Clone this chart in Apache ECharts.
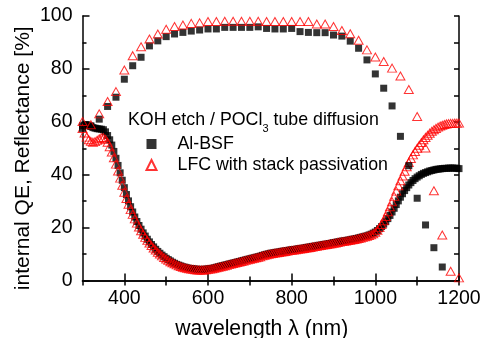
<!DOCTYPE html>
<html><head><meta charset="utf-8">
<script src="https://cdn.jsdelivr.net/npm/echarts@6/dist/echarts.min.js"></script>
<style>html,body{margin:0;padding:0;background:#fff}#c{width:482px;height:338px}</style>
</head><body><div id="c"></div>
<script>
// ---- data ----
const xTickLabels = [400, 600, 800, 1000, 1200];
const xMinorTicks = [500, 700, 900, 1100];

// internal QE, measured every 20 nm
const iqeWavelengths = [300,320,340,360,380,400,420,440,460,480,500,520,540,560,580,600,620,640,660,680,700,720,740,760,780,800,820,840,860,880,900,920,940,960,980,1000,1020,1040,1060,1080,1100,1120,1140,1160,1180,1200];
const iqeAlBsf = [57.5,58.5,61.0,65.8,69.3,76.1,81.2,84.4,88.7,90.6,92.2,93.2,93.8,94.3,94.7,95.1,95.1,95.7,95.7,95.7,95.7,95.9,95.3,95.1,95.1,95.3,94.1,93.8,93.7,93.7,92.8,92.4,90.5,87.8,83.4,78.1,72.7,66.0,54.5,43.4,31.1,21.0,12.4,5.1,null,null];
const iqeLfc = [60.1,58.9,63.0,67.7,71.4,79.6,85.0,88.4,91.3,93.2,95.0,96.0,96.6,97.2,97.4,97.9,97.9,98.0,98.0,98.0,98.0,98.0,97.9,97.9,97.9,97.9,97.9,97.9,97.0,97.0,96.0,94.5,93.3,90.8,87.2,84.5,82.8,80.3,77.3,72.2,62.0,50.1,33.9,17.2,3.5,1.0];

// reflectance, measured every 5 nm from 300 nm to 1200 nm
const reflStart = 300, reflStep = 5;
const reflAlBsf = [
58.5,58.8,58.8,58.5,58.2,57.8,57.6,57.4,57.3,57.2,
57.0,56.2,54.8,53.2,51.2,48.8,46.2,43.5,40.7,37.9,
35.1,32.5,30.1,27.9,25.9,24.0,22.3,20.8,19.4,18.0,
16.8,15.6,14.6,13.6,12.7,11.8,11.0,10.3,9.6,9.0,
8.4,7.9,7.4,6.9,6.5,6.1,5.8,5.5,5.2,5.0,
4.8,4.6,4.5,4.4,4.3,4.2,4.2,4.2,4.2,4.3,
4.4,4.5,4.6,4.8,5.0,5.2,5.4,5.6,5.8,6.0,
6.2,6.4,6.6,6.8,7.0,7.2,7.4,7.6,7.8,8.0,
8.2,8.4,8.6,8.8,9.0,9.2,9.5,9.7,9.9,10.1,
10.3,10.4,10.6,10.7,10.8,11.0,11.1,11.2,11.3,11.5,
11.6,11.7,11.8,12.0,12.1,12.2,12.3,12.5,12.6,12.7,
12.9,13.0,13.1,13.3,13.4,13.6,13.7,13.8,14.0,14.1,
14.3,14.4,14.6,14.7,14.9,15.0,15.1,15.3,15.4,15.6,
15.7,15.9,16.1,16.3,16.5,16.7,16.9,17.2,17.5,17.9,
18.3,18.9,19.6,20.4,21.3,22.3,23.4,24.6,25.9,27.3,
28.7,30.1,31.5,32.8,34.0,35.1,36.1,37.0,37.8,38.5,
39.1,39.6,40.1,40.5,40.8,41.1,41.4,41.6,41.8,42.0,
42.1,42.2,42.3,42.4,42.4,42.5,42.5,42.5,42.5,42.4,
42.3];
const reflLfc = [
57.5,55.8,54.2,53.2,52.6,52.3,52.5,53.0,53.6,54.0,
54.0,53.4,52.3,50.6,48.6,46.4,44.0,41.4,38.7,36.0,
33.4,31.0,28.8,26.8,25.0,23.3,21.7,20.2,18.8,17.5,
16.3,15.2,14.2,13.2,12.3,11.5,10.7,10.0,9.3,8.7,
8.1,7.6,7.1,6.7,6.3,5.9,5.6,5.3,5.0,4.8,
4.6,4.4,4.3,4.2,4.1,4.0,4.0,4.0,4.0,4.1,
4.2,4.3,4.4,4.6,4.8,5.0,5.2,5.4,5.6,5.8,
6.0,6.2,6.4,6.6,6.8,7.0,7.2,7.4,7.6,7.8,
8.0,8.2,8.4,8.6,8.8,9.0,9.3,9.5,9.7,9.9,
10.1,10.2,10.4,10.5,10.6,10.8,10.9,11.0,11.1,11.3,
11.4,11.5,11.6,11.8,11.9,12.0,12.1,12.3,12.4,12.5,
12.7,12.8,12.9,13.1,13.2,13.4,13.5,13.6,13.8,13.9,
14.1,14.2,14.4,14.5,14.7,14.8,14.9,15.1,15.2,15.4,
15.5,15.7,15.9,16.1,16.3,16.5,16.7,17.0,17.3,17.7,
18.2,19.0,20.0,21.2,22.6,24.2,26.0,27.9,29.8,31.8,
33.8,35.8,37.7,39.5,41.3,43.0,44.6,46.1,47.5,48.8,
50.0,51.1,52.2,53.2,54.1,54.9,55.7,56.4,57.0,57.5,
58.0,58.4,58.7,59.0,59.2,59.3,59.4,59.4,59.5,59.5,
59.5];

const seriesNames = ['Al-BSF', 'LFC with stack passivation'];

// ---- build ----
const FONT = '"Liberation Sans", Arial, Helvetica, sans-serif';
const reflWavelengths = reflAlBsf.map((_, i) => reflStart + i * reflStep);
const pairs = (xs, ys) => xs.map((x, i) => [x, ys[i]]);

const black = '#000000', red = '#ff0000';
const lineStyle = { color: black, width: 1.5 };
const gridRect = { left: 82.5, right: 23, top: 16, bottom: 57.5, containLabel: false, outerBoundsMode: 'none' };

const option = {
  animation: false,
  backgroundColor: '#ffffff',
  textStyle: { fontFamily: FONT },
  title: {
    text: '{m|KOH etch / POCl}{s|3}{m| tube diffusion}',
    left: 128, top: 110, padding: 0,
    textStyle: {
      fontFamily: FONT, fontWeight: 'normal',
      rich: {
        m: { fontSize: 17.8, lineHeight: 20, color: black, verticalAlign: 'middle', fontFamily: FONT },
        s: { fontSize: 11, lineHeight: 12, color: black, verticalAlign: 'middle', padding: [18, 0, 0, 0], fontFamily: FONT }
      }
    }
  },
  legend: {
    data: [{ name: seriesNames[0], icon: 'rect' }, { name: seriesNames[1], icon: 'triangle' }],
    orient: 'vertical', left: 145.5, top: 134, itemGap: 1, padding: 0,
    itemWidth: 10, itemHeight: 10, selectedMode: false,
    textStyle: { fontSize: 17.8, lineHeight: 20, color: black, fontFamily: FONT, padding: [0, 0, 0, 16] }
  },
  grid: [Object.assign({}, gridRect), Object.assign({}, gridRect)],
  xAxis: [
    {
      type: 'value', gridIndex: 0, position: 'bottom', min: 300, max: 1200,
      axisLine: { show: true, lineStyle },
      axisTick: { show: true, inside: true, length: 7, lineStyle, customValues: xTickLabels },
      axisLabel: { show: true, customValues: xTickLabels, formatter: v => String(v),
                   fontSize: 19.5, color: black, margin: 8.5, fontFamily: FONT },
      splitLine: { show: false },
      name: 'wavelength λ (nm)', nameLocation: 'middle', nameGap: 38, nameMoveOverlap: false,
      nameTextStyle: { fontSize: 21.2, color: black, fontFamily: FONT, padding: [0, 18, 0, 0] }
    },
    {
      type: 'value', gridIndex: 0, position: 'top', min: 300, max: 1200, interval: 100,
      axisLine: { show: true, lineStyle },
      axisTick: { show: true, inside: true, length: 5, lineStyle },
      axisLabel: { show: false }, splitLine: { show: false }
    },
    {
      type: 'value', gridIndex: 1, position: 'bottom', min: 300, max: 1200,
      axisLine: { show: false },
      axisTick: { show: true, inside: true, length: 4, lineStyle, customValues: xMinorTicks },
      axisLabel: { show: false }, splitLine: { show: false }
    }
  ],
  yAxis: [
    {
      type: 'value', gridIndex: 0, position: 'left', min: 0, max: 100, interval: 20,
      axisLine: { show: true, lineStyle },
      axisTick: { show: true, inside: true, length: 7, lineStyle },
      minorTick: { show: true, splitNumber: 2, length: 4, lineStyle },
      axisLabel: { fontSize: 19.5, color: black, margin: 10, fontFamily: FONT },
      splitLine: { show: false }, minorSplitLine: { show: false },
      name: 'internal QE, Reflectance [%]', nameLocation: 'middle', nameGap: 49, nameMoveOverlap: false,
      nameTextStyle: { fontSize: 21, color: black, fontFamily: FONT, padding: [0, 20, 0, 0] }
    },
    {
      type: 'value', gridIndex: 0, position: 'right', min: 0, max: 100, interval: 10,
      axisLine: { show: true, lineStyle },
      axisTick: { show: true, inside: true, length: 5, lineStyle },
      axisLabel: { show: false }, splitLine: { show: false }
    },
    {
      type: 'value', gridIndex: 1, min: 0, max: 100, show: false
    }
  ],
  series: [
    {
      name: seriesNames[0], type: 'scatter', xAxisIndex: 0, yAxisIndex: 0,
      data: pairs(reflWavelengths, reflAlBsf), symbol: 'rect', symbolSize: 7,
      itemStyle: { color: black }, z: 2
    },
    {
      name: seriesNames[1], type: 'scatter', xAxisIndex: 0, yAxisIndex: 0,
      data: pairs(reflWavelengths, reflLfc), symbol: 'triangle', symbolSize: [9, 8],
      itemStyle: { color: 'rgba(255,255,255,0)', borderColor: red, borderWidth: 1 }, z: 3
    },
    {
      name: seriesNames[0], type: 'scatter', xAxisIndex: 0, yAxisIndex: 0,
      data: pairs(iqeWavelengths, iqeAlBsf), symbol: 'rect', symbolSize: 7,
      itemStyle: { color: black }, z: 4
    },
    {
      name: seriesNames[1], type: 'scatter', xAxisIndex: 0, yAxisIndex: 0,
      data: pairs(iqeWavelengths, iqeLfc), symbol: 'triangle', symbolSize: [9, 8],
      itemStyle: { color: 'rgba(255,255,255,0)', borderColor: red, borderWidth: 1 }, z: 5
    }
  ]
};

const chart = echarts.init(document.getElementById('c'), null, { renderer: 'canvas' });
chart.setOption(option);
</script>
</body></html>
